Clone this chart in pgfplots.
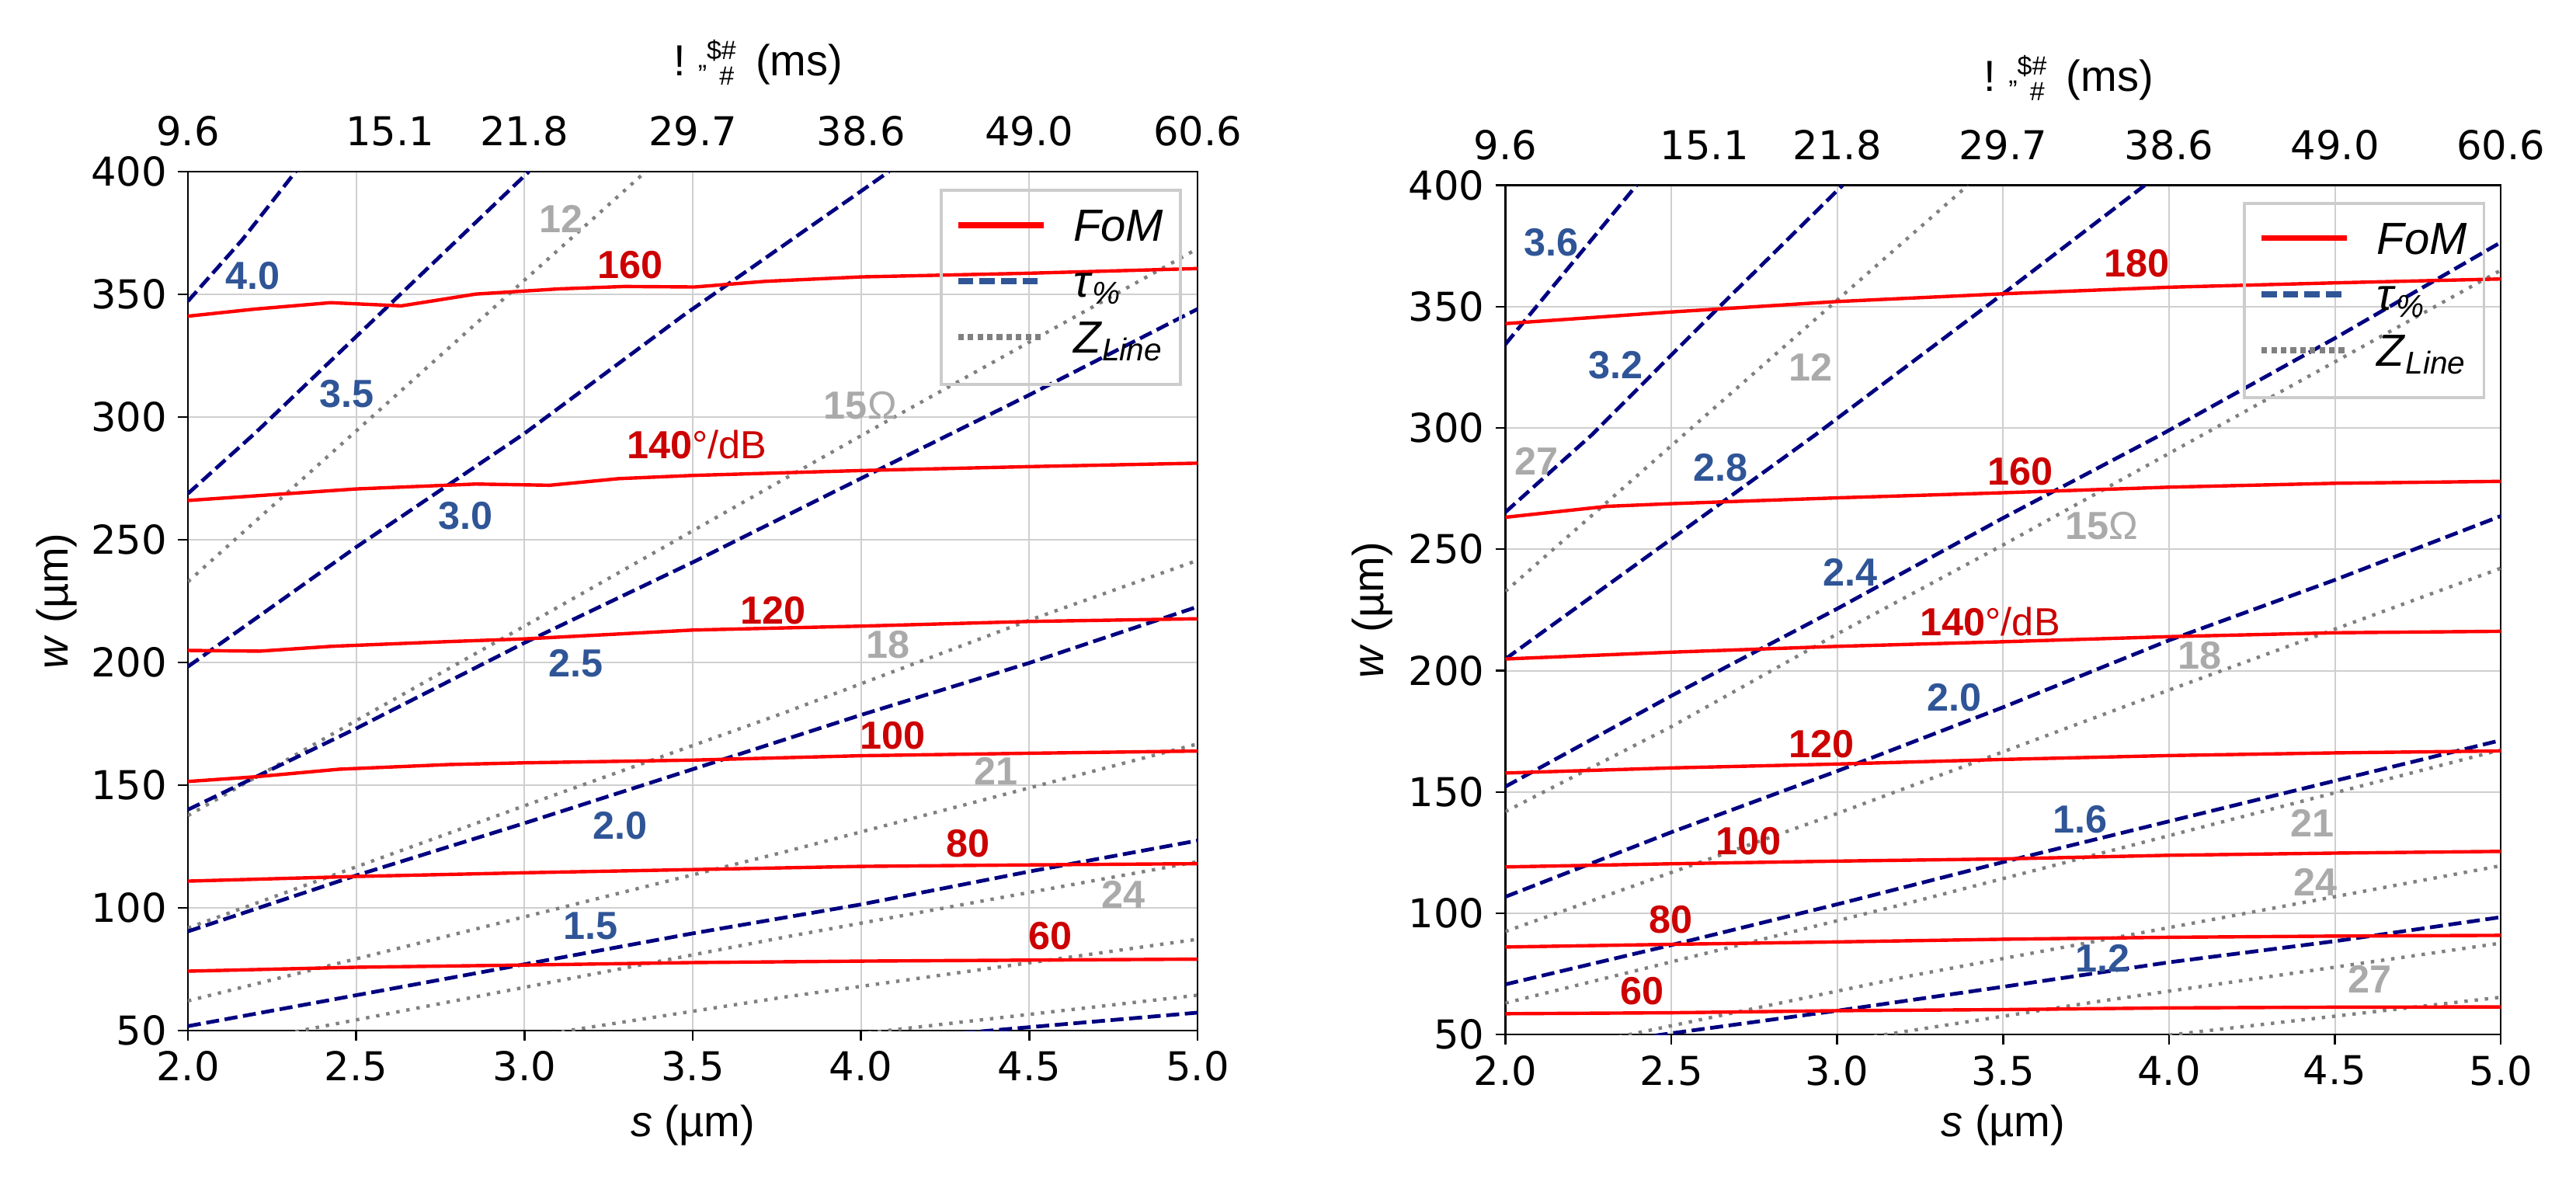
\documentclass[border=0pt]{standalone}
\usepackage{fontspec}
\setmainfont{Liberation Sans}
\newfontfamily\tickfamily{DejaVu Sans}
\usepackage{pgfplots}
\pgfplotsset{compat=1.18}
\definecolor{fomred}{RGB}{255,0,0}
\definecolor{labred}{RGB}{204,0,0}
\definecolor{taunavy}{RGB}{0,0,128}
\definecolor{labblue}{RGB}{47,85,151}
\definecolor{zgray}{RGB}{128,128,128}
\definecolor{labgray}{RGB}{170,170,170}
\definecolor{gridgray}{RGB}{207,207,207}
\definecolor{leggray}{RGB}{204,204,204}
\newcommand{\tf}{\tickfamily\fontsize{12.8}{14}\selectfont}
\newcommand{\lf}{\fontsize{14}{16}\selectfont}
\newcommand{\cf}{\fontsize{12.6}{14}\selectfont\bfseries}
\newcommand{\cn}{\fontsize{12.6}{14}\selectfont\mdseries}
\newcommand{\sfz}{\fontsize{8.5}{9}\selectfont}
\newcommand{\toptitle}{\fontsize{14}{16}\selectfont !\hspace{4pt}\raisebox{-2.5pt}{\sfz "}\raisebox{5.3pt}{\sfz \$\#}\hspace{-5.4pt}\raisebox{-3pt}{\sfz \#}\hspace{7pt}(ms)}
\tikzset{clab/.style={inner sep=0pt, font=\cf}}
\pgfplotsset{
  panel/.style={
    scale only axis, anchor=south west,
    xmin=2, xmax=5, ymin=50, ymax=400,
    xtick={2,2.5,3,3.5,4,4.5,5},
    xticklabels={2.0,2.5,3.0,3.5,4.0,4.5,5.0},
    ytick={50,100,150,200,250,300,350,400},
    yticklabels={50,100,150,200,250,300,350,400},
    tick label style={font=\tf},
    tick pos=left, tick align=outside, major tick length=3.2pt,
    tick style={black, line width=0.6pt},
    axis line style={line width=0.6pt},
    grid=major, grid style={gridgray, line width=0.5pt},
    label style={font=\lf},
    xlabel={\textit{s} (µm)}, ylabel={\textit{w} (µm)},
    legend image code/.code={\draw[#1] (0pt,2pt) -- (27.5pt,2pt);},
    legend cell align=left,
    legend style={draw=leggray, line width=0.9pt, fill=none, anchor=north east,
      font=\fontsize{14.5}{16}\selectfont, inner xsep=4.5pt, inner ysep=5pt, row sep=1.5pt,
      nodes={inner sep=1pt, text height=10.5pt, text depth=4pt},
      /tikz/every odd column/.append style={column sep=7.6pt}},
  },
  toppanel/.style={
    scale only axis, anchor=south west,
    xmin=2, xmax=5, ymin=50, ymax=400,
    axis x line*=top, axis y line=none,
    x axis line style={draw=none},
    xtick={2,2.6,3,3.5,4,4.5,5},
    xticklabels={9.6,15.1,21.8,29.7,38.6,49.0,60.6},
    major tick length=0pt, tick style={draw=none},
    xticklabel style={font=\tf, yshift=4.6pt},
  },
  fom/.style={draw=fomred, line width=1.1pt, mark=none, forget plot},
  tau/.style={draw=taunavy, line width=1.2pt, dash pattern=on 4.2pt off 1.8pt, mark=none, forget plot},
  zl/.style={draw=zgray, line width=1.1pt, dash pattern=on 1.1pt off 2.2pt, mark=none, forget plot},
}
\begin{document}
\begin{tikzpicture}
\useasboundingbox (0,0) rectangle (829.25pt,380.25pt);
% ================= LEFT PANEL =================
\begin{axis}[panel, at={(60.5pt,48.5pt)}, width=325pt, height=276.5pt,
  xlabel style={at={(axis description cs:0.5,-0.123)}, anchor=base},
  ylabel style={at={(axis description cs:-0.1185,0.5)}, anchor=base},
  legend style={at={(0.9846,0.980)}}]
% Z_Line (dotted)
\addplot[zl] coordinates {(2.0,232.9) (3.36,400)};
\addplot[zl] coordinates {(2.0,137.6) (2.5,176.3) (3.0,214.8) (3.77,274.6) (4.073,298) (5.0,368.6)};
\addplot[zl] coordinates {(2.0,91.8) (3.0,141.6) (3.77,179.4) (4.5,217.2) (5.0,241.6)};
\addplot[zl] coordinates {(2.0,62.1) (3.77,122.7) (5.0,166.8)};
\addplot[zl] coordinates {(2.26,48) (3.77,88) (5.0,118.8)};
\addplot[zl] coordinates {(3.05,48.3) (3.77,63.6) (5.0,87.2)};
\addplot[zl] coordinates {(4.02,49.1) (5.0,64.4)};
% tau (dashed)
\addplot[tau] coordinates {(2.0,347.2) (2.16,372) (2.32,400)};
\addplot[tau] coordinates {(2.0,268.8) (2.2,293.5) (3.013,400)};
\addplot[tau] coordinates {(2.0,198.3) (2.5,247) (3.0,293.3) (3.47,341.2) (4.083,400)};
\addplot[tau] coordinates {(2.0,140) (2.5,173.1) (3.0,208) (3.5,240.8) (4.0,275) (4.5,309) (5.0,344)};
\addplot[tau] coordinates {(2.0,90.4) (2.5,113.2) (3.0,134.5) (3.5,156.5) (4.0,178.6) (4.5,199.8) (5.0,222.7)};
\addplot[tau] coordinates {(2.0,51.8) (2.5,64.4) (3.0,77.0) (3.5,89.6) (4.0,101.4) (4.5,114.8) (5.0,127.4)};
\addplot[tau] coordinates {(4.30,49) (5.0,57.3)};
% FoM (solid)
\addplot[fom] coordinates {(2.0,341.1) (2.2,344.0) (2.424,346.6) (2.634,345.3) (2.855,350.1) (3.1,352.2) (3.297,353.2) (3.506,353.0) (3.716,355.3) (4.0,357.1) (4.5,358.6) (5.0,360.5)};
\addplot[fom] coordinates {(2.0,266) (2.5,270.7) (2.856,272.7) (3.075,272.2) (3.28,274.9) (3.5,276.2) (4.0,278.2) (4.5,279.8) (5.0,281.2)};
\addplot[fom] coordinates {(2.0,204.9) (2.213,204.6) (2.43,206.6) (2.775,208.5) (3.0,209.6) (3.28,211.6) (3.5,213.2) (4.0,214.8) (4.5,216.7) (5.0,217.8)};
\addplot[fom] coordinates {(2.0,151.5) (2.2,153.4) (2.45,156.5) (2.776,158.4) (3.0,159.1) (3.5,160.2) (4.0,162.0) (4.5,163.0) (5.0,163.9)};
\addplot[fom] coordinates {(2.0,110.9) (2.5,112.8) (3.0,114.3) (3.5,115.6) (4.0,116.9) (4.5,117.5) (5.0,118.0)};
\addplot[fom] coordinates {(2.0,74.2) (2.5,75.8) (3.0,76.7) (3.5,77.7) (4.0,78.3) (4.5,78.7) (5.0,79.1)};
% legend
\addlegendimage{draw=fomred, line width=1.8pt}
\addlegendentry{\textit{FoM}}
\addlegendimage{draw=labblue, line width=2pt, dash pattern=on 4.9pt off 2pt}
\addlegendentry{\textit{τ}\textsubscript{\textit{\%}}}
\addlegendimage{draw=zgray, line width=1.9pt, dash pattern=on 1.8pt off 1.3pt}
\addlegendentry{\textit{Z}\textsubscript{\textit{Line}}}
% labels
\node[clab, text=labblue] at (axis cs:2.192,357.6) {4.0};
\node[clab, text=labblue] at (axis cs:2.473,309.3) {3.5};
\node[clab, text=labblue] at (axis cs:2.824,259.7) {3.0};
\node[clab, text=labblue] at (axis cs:3.153,199.5) {2.5};
\node[clab, text=labblue] at (axis cs:3.285,133.4) {2.0};
\node[clab, text=labblue] at (axis cs:3.197,92.5) {1.5};
\node[clab, text=labgray] at (axis cs:3.109,380.7) {12};
\node[clab, text=labgray] at (axis cs:3.998,304.8) {15{\cn Ω}};
\node[clab, text=labgray] at (axis cs:4.08,207.3) {18};
\node[clab, text=labgray] at (axis cs:4.401,155.8) {21};
\node[clab, text=labgray] at (axis cs:4.78,105.4) {24};
\node[clab, text=labred] at (axis cs:3.314,361.9) {160};
\node[clab, text=labred] at (axis cs:3.513,288.7) {140{\cn °/dB}};
\node[clab, text=labred] at (axis cs:3.738,221.1) {120};
\node[clab, text=labred] at (axis cs:4.094,170.3) {100};
\node[clab, text=labred] at (axis cs:4.318,126.1) {80};
\node[clab, text=labred] at (axis cs:4.562,88.5) {60};
\end{axis}
\begin{axis}[toppanel, at={(60.5pt,48.5pt)}, width=325pt, height=276.5pt]
\end{axis}
\node[anchor=base west, inner sep=0pt] at (216.6pt,355.8pt) {\toptitle};
% ================= RIGHT PANEL =================
\begin{axis}[panel, at={(484.6pt,47.2pt)}, width=320.45pt, height=273.4pt,
  xlabel style={at={(axis description cs:0.5,-0.12)}, anchor=base},
  ylabel style={at={(axis description cs:-0.1223,0.5)}, anchor=base},
  legend style={at={(0.9845,0.9805)}}]
% Z_Line (dotted)
\addplot[zl] coordinates {(2.0,232.65) (3.394,400)};
\addplot[zl] coordinates {(2.0,141.9) (2.5,176.9) (3.0,215.1) (3.5,251.8) (4.0,289.5) (5.0,365)};
\addplot[zl] coordinates {(2.0,92.5) (3.0,141.1) (4.0,192) (5.0,242.2)};
\addplot[zl] coordinates {(2.0,63.0) (3.22,104.4) (5.0,167.35)};
\addplot[zl] coordinates {(2.25,46.5) (3.22,74.2) (5.0,119.6)};
\addplot[zl] coordinates {(3.05,48) (3.793,63.8) (5.0,87.7)};
\addplot[zl] coordinates {(4.0,49.8) (5.0,65.4)};
% tau (dashed)
\addplot[tau] coordinates {(2.0,334.5) (2.395,400)};
\addplot[tau] coordinates {(2.0,265.3) (2.26,297.1) (2.647,350.2) (3.016,400)};
\addplot[tau] coordinates {(2.0,204.8) (2.5,254.2) (2.934,297.15) (3.5,355.3) (3.927,400)};
\addplot[tau] coordinates {(2.0,152.2) (2.5,189.6) (3.0,225.5) (3.5,262.9) (3.975,297.15) (4.5,337) (5.0,376.5)};
\addplot[tau] coordinates {(2.0,106.8) (2.5,133.4) (3.0,158.6) (3.5,184.9) (4.0,212.5) (4.5,237.4) (5.0,263.7)};
\addplot[tau] coordinates {(2.0,70.7) (2.5,86.9) (3.0,103.7) (3.5,121.1) (4.0,137.9) (4.5,154.6) (5.0,171.3)};
\addplot[tau] coordinates {(2.45,49.6) (3.0,59.85) (3.5,69.7) (4.0,79.8) (4.5,88.5) (5.0,98.4)};
% FoM (solid)
\addplot[fom] coordinates {(2.0,343) (2.5,347.8) (3.0,352.1) (3.5,355.3) (4.0,358) (4.5,359.8) (5.0,361.4)};
\addplot[fom] coordinates {(2.0,263.2) (2.306,267.7) (2.5,268.8) (3.0,271.2) (3.5,273.3) (4.0,275.6) (4.5,277.2) (5.0,278.0)};
\addplot[fom] coordinates {(2.0,204.8) (2.5,207.6) (3.0,210.0) (3.5,211.9) (4.0,214.0) (4.5,215.6) (5.0,216.2)};
\addplot[fom] coordinates {(2.0,157.8) (2.5,159.9) (3.0,161.5) (3.5,163.4) (4.0,165.0) (4.5,166.1) (5.0,166.9)};
\addplot[fom] coordinates {(2.0,119.1) (2.5,120.4) (3.0,121.5) (3.5,122.4) (4.0,123.9) (4.5,124.8) (5.0,125.5)};
\addplot[fom] coordinates {(2.0,86.1) (2.5,87.2) (3.0,88.2) (3.5,89.3) (4.0,90.1) (4.5,90.6) (5.0,90.9)};
\addplot[fom] coordinates {(2.0,58.6) (2.5,59.0) (3.0,59.85) (3.5,60.3) (4.0,61.0) (4.5,61.3) (5.0,61.4)};
% legend
\addlegendimage{draw=fomred, line width=1.8pt}
\addlegendentry{\textit{FoM}}
\addlegendimage{draw=labblue, line width=2pt, dash pattern=on 4.9pt off 2pt}
\addlegendentry{\textit{τ}\textsubscript{\textit{\%}}}
\addlegendimage{draw=zgray, line width=1.9pt, dash pattern=on 1.8pt off 1.3pt}
\addlegendentry{\textit{Z}\textsubscript{\textit{Line}}}
% labels
\node[clab, text=labblue] at (axis cs:2.139,376.6) {3.6};
\node[clab, text=labblue] at (axis cs:2.333,326.0) {3.2};
\node[clab, text=labblue] at (axis cs:2.649,283.6) {2.8};
\node[clab, text=labblue] at (axis cs:3.039,240.6) {2.4};
\node[clab, text=labblue] at (axis cs:3.353,188.9) {2.0};
\node[clab, text=labblue] at (axis cs:3.731,138.7) {1.6};
\node[clab, text=labblue] at (axis cs:3.801,81.4) {1.2};
\node[clab, text=labgray] at (axis cs:2.919,324.9) {12};
\node[clab, text=labgray] at (axis cs:3.798,259.7) {15{\cn Ω}};
\node[clab, text=labgray] at (axis cs:4.092,206.1) {18};
\node[clab, text=labgray] at (axis cs:4.432,137.1) {21};
\node[clab, text=labgray] at (axis cs:4.441,112.9) {24};
\node[clab, text=labgray] at (axis cs:2.094,286.3) {27};
\node[clab, text=labgray] at (axis cs:4.604,72.7) {27};
\node[clab, text=labred] at (axis cs:3.903,367.8) {180};
\node[clab, text=labred] at (axis cs:3.553,282.0) {160};
\node[clab, text=labred] at (axis cs:3.461,220.2) {140{\cn °/dB}};
\node[clab, text=labred] at (axis cs:2.952,169.75) {120};
\node[clab, text=labred] at (axis cs:2.733,129.6) {100};
\node[clab, text=labred] at (axis cs:2.498,97.3) {80};
\node[clab, text=labred] at (axis cs:2.411,67.8) {60};
\end{axis}
\begin{axis}[toppanel, at={(484.6pt,47.2pt)}, width=320.45pt, height=273.4pt]
\end{axis}
\node[anchor=base west, inner sep=0pt] at (638.5pt,350.9pt) {\toptitle};
\end{tikzpicture}
\end{document}
